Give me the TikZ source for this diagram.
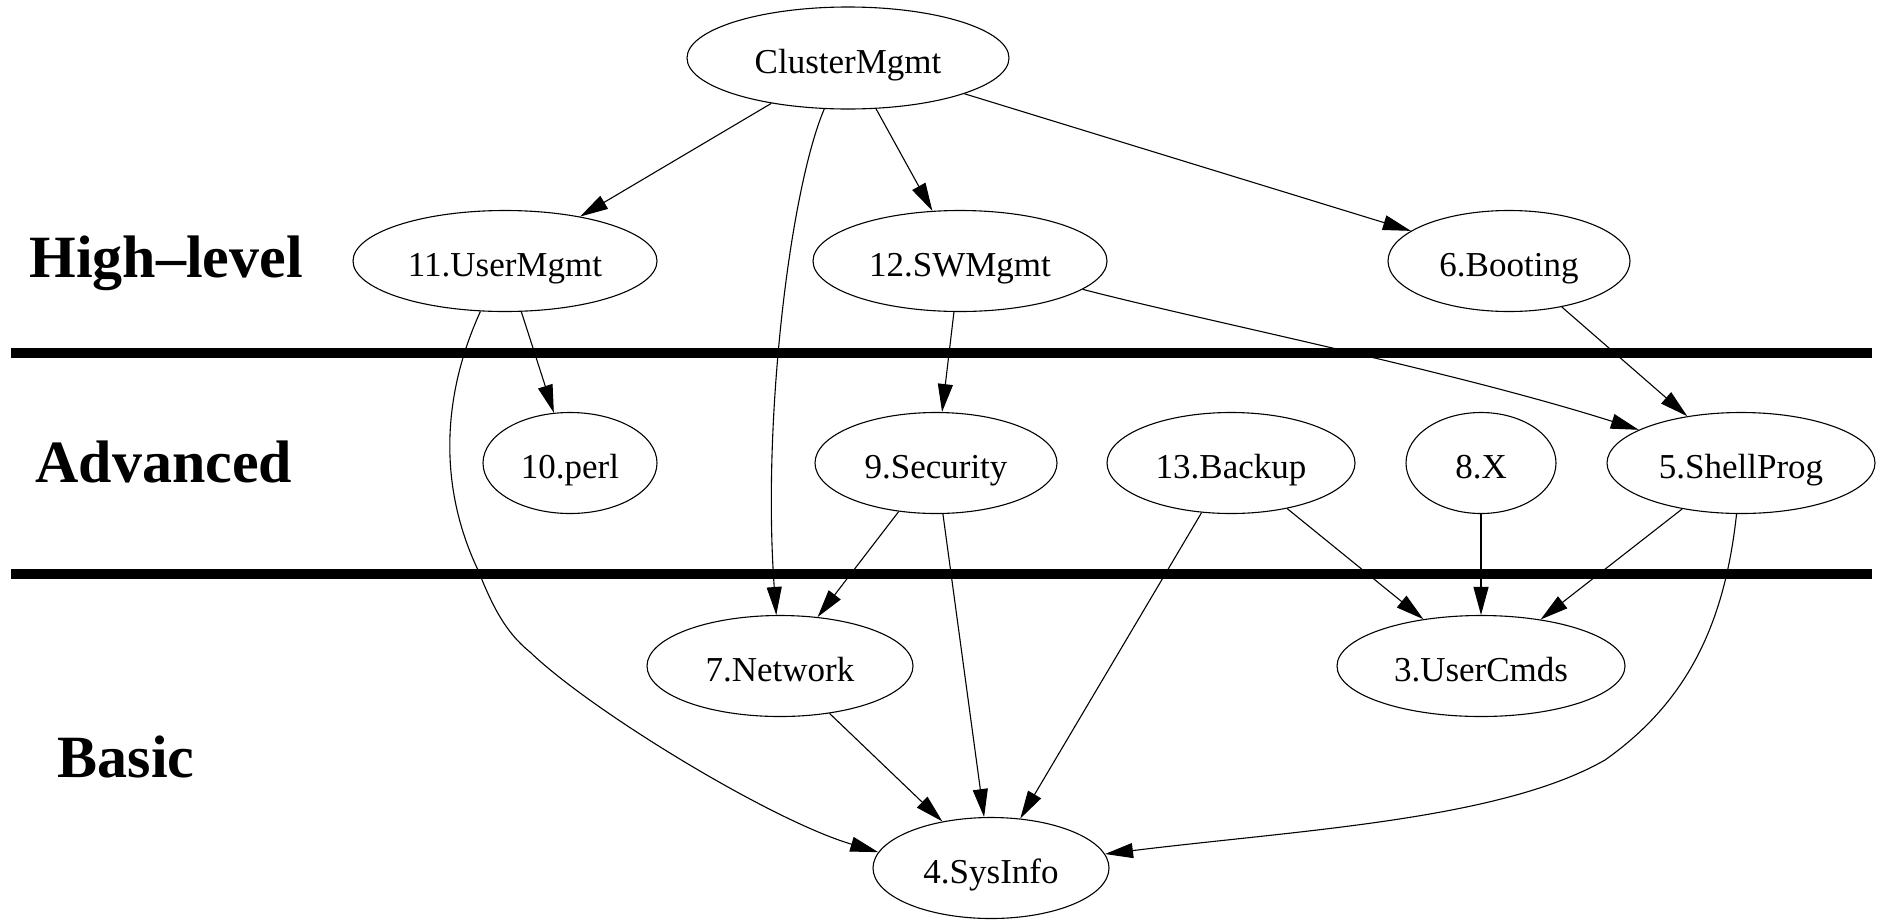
\documentclass[tikz,border=0pt]{standalone}
\usepackage{fontspec}
\setmainfont{Liberation Serif}
\usetikzlibrary{shapes.geometric,arrows.meta}
\begin{document}
\begin{tikzpicture}[x=1pt,y=-1pt,
  task/.style={ellipse,draw,line width=1.1pt,inner sep=0pt,minimum height=101pt,
    text height=30pt,text depth=0pt,font=\fontsize{35}{42}\selectfont},
  dep/.style={line width=1.1pt,-{Triangle[length=28pt,width=15pt]}},
  level/.style={anchor=base,font=\fontsize{60}{72}\selectfont\bfseries},
  bar/.style={line width=10pt}]
\useasboundingbox (0,0) rectangle (1886,919);

\node[level] (hi) at (166,277) {High--level};
\node[level] (adv) at (164,482) {Advanced};
\node[level] (bas) at (126,777) {Basic};

\draw[bar] (11,353) -- (1872,353);
\draw[bar] (11,573.5) -- (1872,573.5);

\node[task,minimum width=322pt,minimum height=102pt] (cm) at (848,58) {ClusterMgmt};
\node[task,minimum width=304pt] (um) at (505,261) {11.UserMgmt};
\node[task,minimum width=294pt] (sw) at (960,261) {12.SWMgmt};
\node[task,minimum width=242pt] (boot) at (1509,261) {6.Booting};
\node[task,minimum width=174pt] (perl) at (570,463) {10.perl};
\node[task,minimum width=242pt] (sec) at (936,463) {9.Security};
\node[task,minimum width=248pt] (bak) at (1231,463) {13.Backup};
\node[task,minimum width=150pt] (xw) at (1481,463) {8.X};
\node[task,minimum width=268pt] (sp) at (1741,463) {5.ShellProg};
\node[task,minimum width=266pt] (net) at (780,666) {7.Network};
\node[task,minimum width=288pt] (uc) at (1481,666) {3.UserCmds};
\node[task,minimum width=236pt] (si) at (991,868) {4.SysInfo};

\draw[dep] (cm) -- (um);
\draw[dep] (cm.245) .. controls (790,190) and (762,420) .. (net);
\draw[dep] (cm) -- (sw);
\draw[dep] (cm) -- (boot);
\draw[dep] (um) -- (perl);
\draw[dep] (um.244) .. controls (440,400) and (440,490) .. (478,570)
  .. controls (492,605) and (505,632) .. (530,652)
  .. controls (590,710) and (770,820) .. (si.172);
\draw[dep] (sw) -- (sec);
\draw[dep] (sw.347) .. controls (1200,320) and (1450,370) .. (sp.162);
\draw[dep] (boot) -- (sp);
\draw[dep] (sec) -- (net);
\draw[dep] (sec) -- (si);
\draw[dep] (bak) -- (si);
\draw[dep] (bak) -- (uc);
\draw[dep] (xw) -- (uc);
\draw[dep] (sp) -- (uc);
\draw[dep] (sp.265) .. controls (1725,620) and (1690,700) .. (1605,760)
  .. controls (1500,820) and (1300,830) .. (si.7);
\draw[dep] (net) -- (si);
\end{tikzpicture}
\end{document}
